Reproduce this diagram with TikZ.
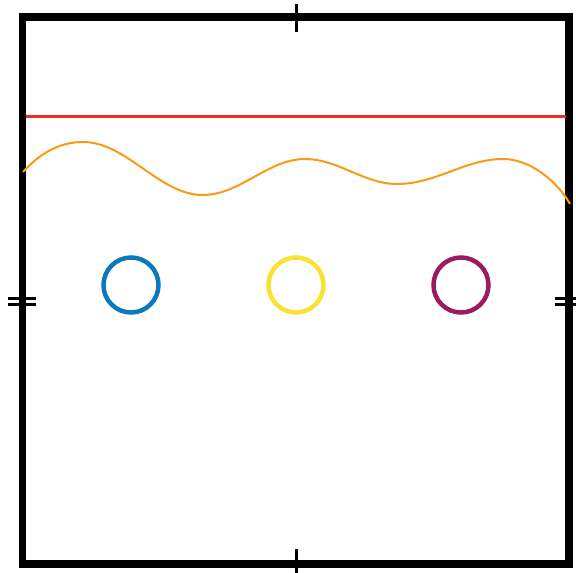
\documentclass[tikz,border=0pt]{standalone}
\usetikzlibrary{positioning}
\definecolor{wellblue}{RGB}{11,121,190}
\definecolor{wellyellow}{RGB}{250,226,52}
\definecolor{wellpurple}{RGB}{155,27,92}
\definecolor{waveorange}{RGB}{250,155,20}
\definecolor{barrierred}{RGB}{232,48,36}
\tikzset{
  boxwall/.style={draw=black,line width=7.5pt},
  edgetick/.style={black,line width=3pt},
  barrier/.style={barrierred,line width=3pt},
  wave/.style={waveorange,line width=2pt},
  well/.style={circle,draw,line width=4.5pt,minimum size=55pt,inner sep=0pt},
}
\begin{document}
\begin{tikzpicture}[x=1pt,y=-1pt]
  \useasboundingbox (0,0) rectangle (576,573);
  % box
  \coordinate (nw) at (22.5,17);
  \coordinate (se) at (569,564);
  \draw[boxwall] (nw) rectangle (se);
  % ticks on the sides
  \draw[edgetick] (296,4) -- (296,32);
  \draw[edgetick] (296,549) -- (296,577);
  \draw[edgetick] (8,298) -- (36,298);  \draw[edgetick] (8,304) -- (36,304);
  \draw[edgetick] (555,298) -- (583,298); \draw[edgetick] (555,304) -- (583,304);
  % red line
  \coordinate (rl) at (26,116);
  \coordinate (rr) at (565.5,116);
  \draw[barrier] (rl) -- (rr);
  % orange wave
  \draw[wave] (23,172) .. controls (40,153) and (60,142) .. (83,142)
    .. controls (127,142) and (159,195) .. (203,195)
    .. controls (240,195) and (268,159) .. (305,159)
    .. controls (338,159) and (364,184) .. (397,184)
    .. controls (436,184) and (465,159) .. (503,159)
    .. controls (530,159) and (557,181) .. (570,204);
  % circles
  \node[well,draw=wellblue] (c1) at (131,285) {};
  \node[well,draw=wellyellow] (c2) at (296,285) {};
  \node[well,draw=wellpurple] (c3) at (461,285) {};
\end{tikzpicture}
\end{document}
